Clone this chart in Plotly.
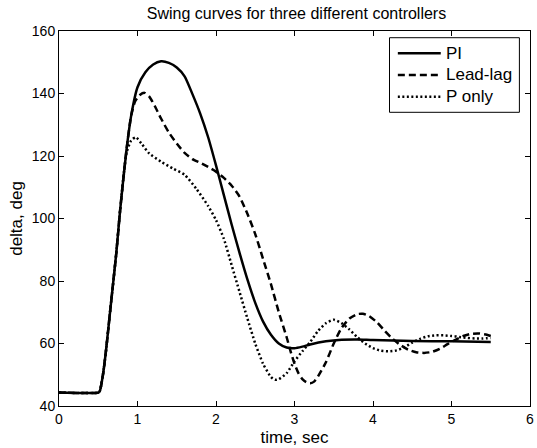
import plotly.graph_objects as go

# ---- data ----
t_pi = [0, 0.5, 0.52, 0.56, 0.6, 0.65, 0.73, 0.78, 0.86, 0.92, 1.0, 1.1, 1.2, 1.3, 1.4, 1.5,
        1.6, 1.7, 1.8, 1.9, 2.0, 2.1, 2.2, 2.3, 2.4, 2.5, 2.6, 2.7, 2.8, 2.9, 3.0, 3.1, 3.2,
        3.4, 3.6, 3.8, 4.0, 4.5, 5.0, 5.5]
v_pi = [44.3, 44.3, 44.8, 50, 58, 70, 89, 103, 122, 133, 142, 146.8, 149.3, 150.3, 149.8, 148.3,
        145.5, 139.8, 133.5, 126, 117, 107.5, 98, 89, 80.5, 73, 67, 62.8, 60, 58.7, 58.5, 59, 59.7,
        60.7, 61.2, 61.3, 61.1, 60.8, 60.7, 60.5]

t_ll = [0, 0.5, 0.52, 0.56, 0.6, 0.65, 0.73, 0.78, 0.86, 0.92, 0.97, 1.03, 1.09, 1.15, 1.22,
        1.3, 1.4, 1.5, 1.6, 1.7, 1.8, 1.9, 2.0, 2.1, 2.2, 2.3, 2.4, 2.5, 2.6, 2.7, 2.8, 2.9,
        2.95, 3.0, 3.05, 3.1, 3.15, 3.2, 3.25, 3.3, 3.4, 3.5, 3.6, 3.7, 3.8, 3.87, 3.95, 4.05,
        4.15, 4.25, 4.35, 4.45, 4.55, 4.65, 4.75, 4.85, 4.95, 5.05, 5.15, 5.25, 5.35, 5.45, 5.5]
v_ll = [44.3, 44.3, 44.8, 50, 58, 70, 89, 103, 122, 133, 137.5, 139.5, 140.2, 139, 136,
        132, 127.5, 124, 121, 119, 117.8, 116.5, 115, 113, 110.5, 107, 101.5, 95, 87, 79, 70, 62,
        57.5, 53.5, 50.5, 48.6, 47.6, 47.3, 47.8, 49.5, 54, 60, 65, 68, 69.4, 69.5, 68.8, 66.8,
        64, 61.5, 59.5, 58, 57.2, 57, 57.3, 58.3, 59.8, 61.2, 62.4, 63.1, 63.2, 62.8, 62.4]

t_p = [0, 0.5, 0.52, 0.56, 0.6, 0.65, 0.73, 0.78, 0.86, 0.92, 0.98, 1.05, 1.15, 1.3, 1.45,
       1.6, 1.75, 1.9, 2.0, 2.1, 2.2, 2.3, 2.4, 2.5, 2.6, 2.7, 2.75, 2.8, 2.9, 3.0, 3.1, 3.2,
       3.3, 3.4, 3.5, 3.6, 3.7, 3.8, 3.9, 4.0, 4.1, 4.2, 4.3, 4.4, 4.5, 4.6, 4.7, 4.8, 4.9,
       5.0, 5.1, 5.2, 5.3, 5.4, 5.5]
v_p = [44.3, 44.3, 44.8, 50, 58, 70, 89, 103, 121, 125, 126, 124, 120.8, 118.2, 116,
       114, 109.5, 104, 99.5, 93.5, 85, 76.5, 68, 60, 53.5, 49.3, 48.4, 48.6, 50.5, 54.3, 57.5, 60.5,
       64, 66.5, 67.6, 66.5, 64.5, 62, 60, 58.5, 57.7, 57.5, 57.8, 58.8, 60.3, 61.5, 62.3, 62.6, 62.6,
       62.4, 62.1, 61.8, 61.6, 61.6, 61.8]

series_names = ["PI", "Lead-lag", "P only"]
x_ticks = [0, 1, 2, 3, 4, 5, 6]
y_ticks = [40, 60, 80, 100, 120, 140, 160]

FONT = "Liberation Sans, Arial, sans-serif"
DASHES = ["solid", "7px,4px", "2px,2.5px"]

fig = go.Figure()
for name, tx, vy, dash in zip(series_names, [t_pi, t_ll, t_p], [v_pi, v_ll, v_p], DASHES):
    fig.add_trace(go.Scatter(x=tx, y=vy, name=name, mode="lines", showlegend=False,
                             line=dict(color="black", width=2.5, dash=dash,
                                       shape="spline", smoothing=0.6)))

# ---- MATLAB-style legend box (axes-domain coordinates) ----
LEG_X0, LEG_X1, LEG_Y0, LEG_Y1 = 0.7017, 0.9775, 0.7832, 0.9821
ROW_Y = [0.9405, 0.8827, 0.8248]
LINE_X0, LINE_X1, TEXT_X = 0.7194, 0.8105, 0.8170
fig.add_shape(type="rect", xref="x domain", yref="y domain",
              x0=LEG_X0, x1=LEG_X1, y0=LEG_Y0, y1=LEG_Y1,
              line=dict(color="black", width=1), fillcolor="white", layer="above")
for name, dash, ry in zip(series_names, DASHES, ROW_Y):
    fig.add_shape(type="line", xref="x domain", yref="y domain",
                  x0=LINE_X0, x1=LINE_X1, y0=ry, y1=ry,
                  line=dict(color="black", width=2.5, dash=dash), layer="above")
    fig.add_annotation(text=name, xref="x domain", yref="y domain", x=TEXT_X, y=ry,
                       xanchor="left", yanchor="middle", showarrow=False,
                       font=dict(family=FONT, size=17, color="black"))

axis_common = dict(showline=True, linecolor="black", linewidth=1, mirror="ticks",
                   ticks="inside", ticklen=5, tickcolor="black", showgrid=False, zeroline=False,
                   ticklabeloverflow="allow",
                   tickfont=dict(family=FONT, size=14, color="black"))

fig.update_layout(
    width=537, height=448,
    margin=dict(l=59, r=3, t=31, b=42),
    paper_bgcolor="white", plot_bgcolor="white",
    title=dict(text="Swing curves for three different controllers", x=(59 + 534) / 2 / 537,
               xanchor="center", y=1 - 13.5 / 448, yanchor="middle",
               font=dict(family=FONT, size=16, color="black")),
    xaxis=dict(range=[0, 6], tickvals=x_ticks, ticktext=[str(v) for v in x_ticks],
               title=dict(text="time, sec", standoff=5, font=dict(family=FONT, size=17, color="black")),
               **axis_common),
    yaxis=dict(range=[40, 160], tickvals=y_ticks, ticktext=[str(v) for v in y_ticks],
               title=dict(text="delta, deg", standoff=4, font=dict(family=FONT, size=17, color="black")),
               **axis_common),
    showlegend=False,
)

fig.write_html("out.html")
